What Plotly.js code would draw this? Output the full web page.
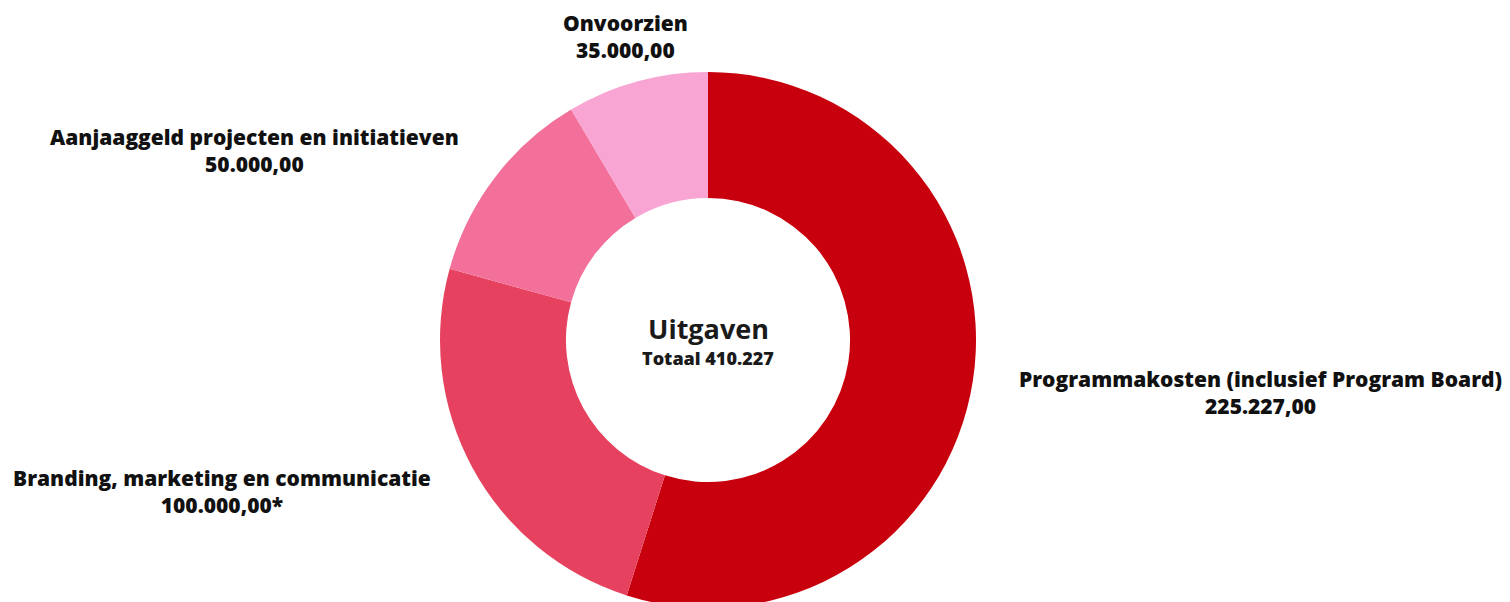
<!DOCTYPE html>
<html>
<head>
<meta charset="utf-8">
<script src="https://cdn.plot.ly/plotly-3.0.1.min.js"></script>
<style>
html,body{margin:0;padding:0;background:#fff;overflow:hidden;}
#chart{width:1510px;height:616px;}
</style>
</head>
<body>
<div id="chart"></div>
<script>
// Data
const categories = [
  "Programmakosten (inclusief Program Board)",
  "Branding, marketing en communicatie",
  "Aanjaaggeld projecten en initiatieven",
  "Onvoorzien"
];
const amounts = [225227, 100000, 50000, 35000];
const notes = ["", "*", "", ""];
const centerTitle = "Uitgaven";
const centerSubtitle = "Totaal 410.227";

// Styles / layout
const colors = ["#c8000d", "#e6425f", "#f27099", "#f8a5d3"];
const labelPos = [
  {x: 1260, y: 392},
  {x: 222, y: 491},
  {x: 254, y: 151},
  {x: 625, y: 37}
];
const W = 1510, H = 616;
const FONT = "'Open Sans', 'Noto Sans', sans-serif";

function fmt(v) {
  const s = Math.round(v).toString().replace(/\B(?=(\d{3})+(?!\d))/g, ".");
  return s + ",00";
}

const trace = {
  type: "pie",
  labels: categories,
  values: amounts,
  hole: 0.53,
  sort: false,
  direction: "clockwise",
  rotation: 0,
  textinfo: "none",
  hoverinfo: "label+value",
  marker: {colors: colors, line: {width: 0}},
  domain: {x: [440 / W, 976 / W], y: [(H - 608) / H, (H - 72) / H]},
  showlegend: false
};

const annotations = categories.map((c, i) => ({
  x: labelPos[i].x / W,
  y: 1 - labelPos[i].y / H,
  xref: "paper", yref: "paper",
  xanchor: "center", yanchor: "middle",
  showarrow: false,
  align: "center",
  text: c + "<br>" + fmt(amounts[i]) + notes[i],
  font: {family: FONT, size: 21, weight: 800, color: "#111"}
}));
annotations.push({
  x: 708 / W, y: 1 - 328 / H, xref: "paper", yref: "paper",
  xanchor: "center", yanchor: "middle", showarrow: false,
  text: centerTitle,
  font: {family: FONT, size: 27, weight: 700, color: "#1a1a1a"}
});
annotations.push({
  x: 708 / W, y: 1 - 358 / H, xref: "paper", yref: "paper",
  xanchor: "center", yanchor: "middle", showarrow: false,
  text: centerSubtitle,
  font: {family: FONT, size: 18, weight: 800, color: "#1a1a1a"}
});

const layout = {
  width: W, height: H,
  margin: {l: 0, r: 0, t: 0, b: 0},
  paper_bgcolor: "#ffffff",
  plot_bgcolor: "#ffffff",
  annotations: annotations
};

Plotly.newPlot("chart", [trace], layout, {displayModeBar: false, staticPlot: true});
</script>
</body>
</html>
